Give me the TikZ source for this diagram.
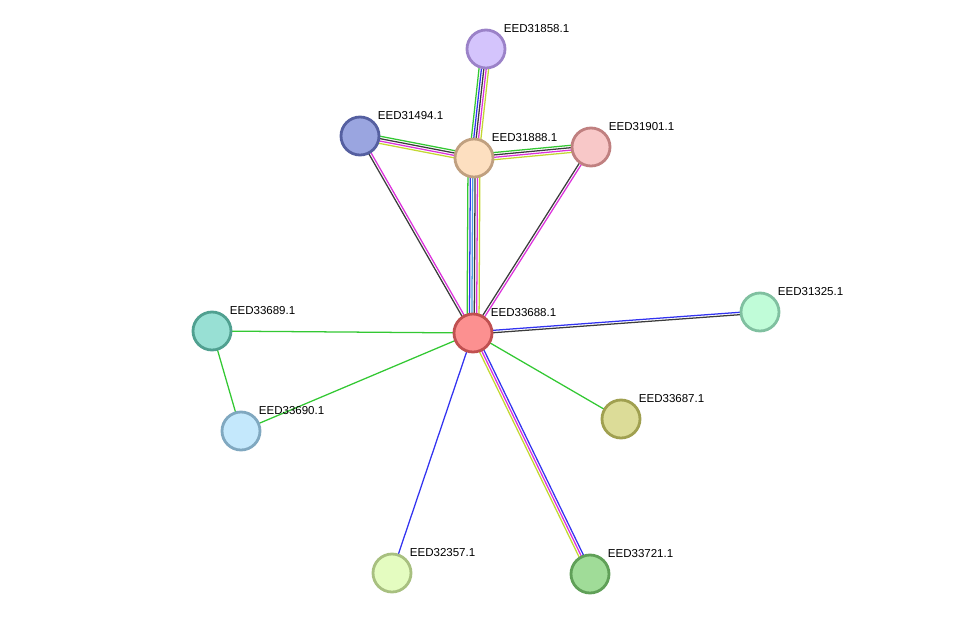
\documentclass[tikz,border=0pt]{standalone}
\usepackage{fontspec}
\setmainfont{Liberation Sans}
\usetikzlibrary{calc,backgrounds}

\definecolor{egreen}{RGB}{51,200,51}
\definecolor{eblue}{RGB}{51,51,240}
\definecolor{emag}{RGB}{220,50,220}
\definecolor{eyel}{RGB}{195,215,50}
\definecolor{eblack}{RGB}{60,60,60}
\definecolor{ecyan}{RGB}{70,160,220}

\tikzset{
  prot/.style={circle, minimum size=0.95cm, inner sep=0pt, line width=0.07cm},
  every label/.style={font=\fontsize{8.2}{9.5}\selectfont, inner sep=0pt, yshift=0.52cm, xshift=-0.07cm},
}

% bundle of parallel coloured lines between two nodes
\newcommand{\bundle}[3]{%
  \foreach \col [count=\k] in {#3} {\xdef\nlines{\k}}
  \foreach \col [count=\k] in {#3} {
    \pgfmathsetmacro{\off}{(\k-(\nlines+1)/2)*1.7}
    \draw[\col, line width=0.9pt] ($(#1)!\off pt!90:(#2)$) -- ($(#2)!\off pt!-90:(#1)$);
  }
}

\begin{document}
\begin{tikzpicture}[x=0.025cm, y=-0.025cm]
\useasboundingbox (0,0) rectangle (976,620);

\node[prot, draw={rgb,255:red,155;green,130;blue,200}, fill={rgb,255:red,212;green,196;blue,252}, label=0:EED31858.1] (P858) at (486,49) {};
\node[prot, draw={rgb,255:red,85;green,95;blue,160}, fill={rgb,255:red,154;green,165;blue,224}, label=0:EED31494.1] (P494) at (360,136) {};
\node[prot, draw={rgb,255:red,192;green,160;blue,128}, fill={rgb,255:red,253;green,223;blue,192}, label=0:EED31888.1] (P888) at (474,158) {};
\node[prot, draw={rgb,255:red,192;green,128;blue,128}, fill={rgb,255:red,248;green,200;blue,200}, label=0:EED31901.1] (P901) at (591,147) {};
\node[prot, draw={rgb,255:red,192;green,80;blue,80}, fill={rgb,255:red,252;green,144;blue,144}, label=0:EED33688.1] (P688) at (473,333) {};
\node[prot, draw={rgb,255:red,128;green,192;blue,160}, fill={rgb,255:red,192;green,252;blue,216}, label=0:EED31325.1] (P325) at (760,312) {};
\node[prot, draw={rgb,255:red,80;green,160;blue,144}, fill={rgb,255:red,152;green,224;blue,212}, label=0:EED33689.1] (P689) at (212,331) {};
\node[prot, draw={rgb,255:red,128;green,168;blue,192}, fill={rgb,255:red,196;green,232;blue,252}, label=0:EED33690.1] (P690) at (241,431) {};
\node[prot, draw={rgb,255:red,160;green,160;blue,80}, fill={rgb,255:red,220;green,220;blue,152}, label=0:EED33687.1] (P687) at (621,419) {};
\node[prot, draw={rgb,255:red,168;green,192;blue,128}, fill={rgb,255:red,228;green,252;blue,192}, label=0:EED32357.1] (P357) at (392,573) {};
\node[prot, draw={rgb,255:red,96;green,160;blue,88}, fill={rgb,255:red,160;green,220;blue,152}, label=0:EED33721.1] (P721) at (590,574) {};

\begin{scope}[on background layer]
\bundle{P858}{P888}{egreen,eblue,eblack,emag,eyel}
\bundle{P494}{P888}{eyel,emag,eblack,egreen}
\bundle{P888}{P901}{eyel,emag,eblack,egreen}
\bundle{P888}{P688}{egreen,eblue,ecyan,eblack,emag,eyel}
\bundle{P494}{P688}{eblack,emag}
\bundle{P901}{P688}{eblack,emag}
\bundle{P688}{P325}{eblack,eblue}
\bundle{P688}{P721}{eyel,emag,eblue}
\bundle{P688}{P357}{eblue}
\bundle{P688}{P687}{egreen}
\bundle{P688}{P689}{egreen}
\bundle{P688}{P690}{egreen}
\bundle{P689}{P690}{egreen}
\end{scope}
\end{tikzpicture}
\end{document}
